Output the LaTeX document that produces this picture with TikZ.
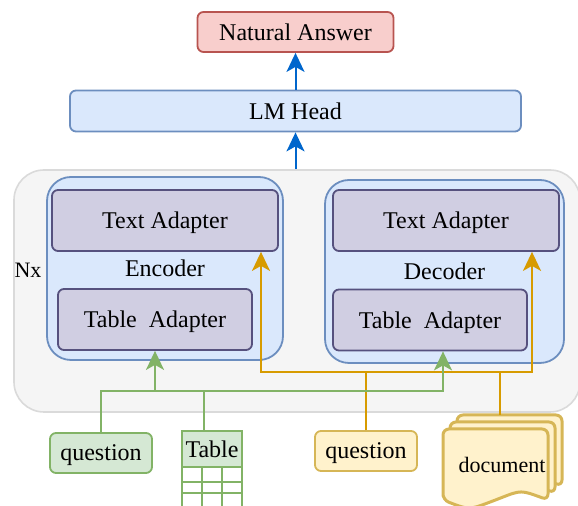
\documentclass[tikz,border=0pt]{standalone}
\usepackage{fontspec}
\setmainfont{Liberation Serif}
\usetikzlibrary{calc,positioning,arrows.meta}

\definecolor{blueFill}{HTML}{DAE8FC}
\definecolor{blueLine}{HTML}{6C8EBF}
\definecolor{redFill}{HTML}{F8CECC}
\definecolor{redLine}{HTML}{B85450}
\definecolor{purpleFill}{HTML}{D0CEE2}
\definecolor{purpleLine}{HTML}{56517E}
\definecolor{greenFill}{HTML}{D5E8D4}
\definecolor{greenLine}{HTML}{82B366}
\definecolor{yellowFill}{HTML}{FFF2CC}
\definecolor{yellowLine}{HTML}{D6B656}
\definecolor{orangeLine}{HTML}{D79B00}
\definecolor{greyFill}{HTML}{F5F5F5}
\definecolor{greyLine}{HTML}{DADADA}
\definecolor{arrowBlue}{HTML}{0066CC}

\tikzset{
  box/.style={rectangle,rounded corners=3pt,line width=0.9pt,inner sep=0pt,text depth=0pt,font=\fontsize{12}{14}\selectfont},
  adapter/.style={box,draw=purpleLine,fill=purpleFill,minimum height=30.5pt},
  coder/.style={box,rounded corners=12pt,draw=blueLine,fill=blueFill},
  tip/.style={-{Stealth[length=9.5pt,width=9pt,inset=2.5pt]}},
  bluearrow/.style={tip,draw=arrowBlue,line width=1pt},
  oline/.style={draw=orangeLine,line width=1pt},
  oarrow/.style={oline,tip},
  gline/.style={draw=greenLine,line width=1pt},
  garrow/.style={gline,tip},
  docpage/.style={draw=yellowLine,fill=yellowFill,line width=1.5pt,rounded corners=3pt},
}

\begin{document}
\begin{tikzpicture}[x=0.5pt,y=-0.5pt]

  \clip (0,0) rectangle (578,506);

  \node (stack) [rectangle,rounded corners=15pt,draw=greyLine,fill=greyFill,line width=0.8pt,minimum width=283pt,minimum height=121pt] at(297,291) {};

  \node (answer) [box,draw=redLine,fill=redFill,minimum width=98pt,minimum height=20pt] at(295.5,32) {Natural Answer};
  \node (head) [box,draw=blueLine,fill=blueFill,minimum width=225.5pt,minimum height=20.5pt] at(295.5,111) {LM Head};

  \node (nx) [font=\fontsize{11}{13}\selectfont] at(28,270) {Nx};

  % encoder and decoder
  \node (enc) [coder,minimum width=118pt,minimum height=91.5pt] at(165,268.5) {Encoder};
  \node (encTA) [adapter,minimum width=113pt] at(165,220.5) {Text Adapter};
  \node (encTblA) [adapter,minimum width=97pt] at(155,319.5) {Table\ \ Adapter};

  \node (dec) [coder,minimum width=119.5pt,minimum height=91.5pt] at(444.5,271.5) {Decoder};
  \node (decTA) [adapter,minimum width=113pt] at(446,220.5) {Text Adapter};
  \node (decTblA) [adapter,minimum width=97pt] at(430,320) {Table\ \ Adapter};

  % inputs
  \node (qg) [box,draw=greenLine,fill=greenFill,minimum width=51pt,minimum height=20pt] at(101,453) {question};
  \node (qy) [box,draw=yellowLine,fill=yellowFill,minimum width=51pt,minimum height=20pt] at(366,451) {question};

  \fill[white] (182,467) rectangle (242,520);
  \foreach \xx in {182,202,222,242}
    \draw[gline] (\xx,467) -- (\xx,520);
  \foreach \yy in {482,493}
    \draw[gline] (182,\yy) -- (242,\yy);
  \node (tbl) [rectangle,draw=greenLine,fill=greenFill,line width=1pt,minimum width=30pt,minimum height=18pt,inner sep=0pt,font=\fontsize{12}{14}\selectfont] at(212,449) {Table};

  \foreach \d in {14,7,0}
    \draw[docpage,shift={(\d,-\d)}] (443,500) -- (443,429) -- (548,429) -- (548,500)
      .. controls (521,490) .. (495.5,500) .. controls (469,510) .. (443,500) -- cycle;
  \node (doc) [font=\fontsize{11}{13}\selectfont] at(502,465) {document};
  \coordinate (docTop) at(500,415);

  % connectors
  \draw[bluearrow] (head.north) -- (answer.south);
  \draw[bluearrow] (head.south |- stack.north) -- (head.south);

  \coordinate (oL) at(261,372);
  \coordinate (oR) at(532,372);
  \draw[oarrow] (qy.north) |- (oL) -- (oL |- encTA.south);
  \draw[oarrow] (qy.north) |- (oR) -- (oR |- decTA.south);
  \draw[oline] (docTop) -- (docTop |- oR);

  \coordinate (gL) at(155,391);
  \coordinate (gR) at(443,391);
  \coordinate (tblTop) at(204,431);
  \draw[garrow] (qg.north) |- (gL) -- (encTblA.south);
  \draw[garrow] (qg.north) |- (gR) -- (gR |- decTblA.south);
  \draw[gline] (tblTop) -- (tblTop |- gL);

\end{tikzpicture}
\end{document}
